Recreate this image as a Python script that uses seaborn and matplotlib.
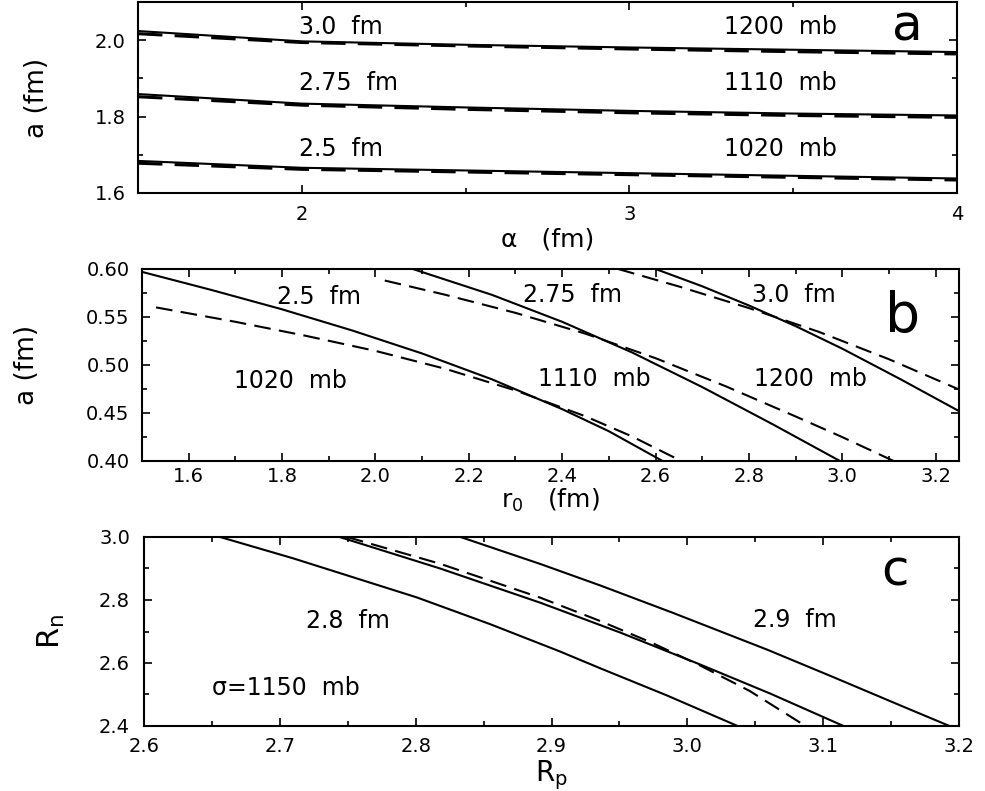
import numpy as np
import pandas as pd
import matplotlib
matplotlib.use("Agg")
import matplotlib.pyplot as plt
from matplotlib.ticker import MultipleLocator, FormatStrFormatter
import seaborn as sns

sns.set_style("ticks")
plt.rcParams['font.family'] = ['DejaVu Sans']
plt.rcParams['mathtext.fontset'] = 'dejavusans'
plt.rcParams['text.color'] = 'black'
plt.rcParams['axes.labelcolor'] = 'black'
plt.rcParams['xtick.color'] = 'black'
plt.rcParams['ytick.color'] = 'black'

# ---------------- Panel a data ----------------
a_x = [1.5, 2.0, 2.5, 3.0, 3.5, 4.0]
a_solid_30 = [2.024, 1.997, 1.988, 1.981, 1.975, 1.969]
a_dash_30 = [2.017, 1.994, 1.985, 1.977, 1.970, 1.964]
a_solid_275 = [1.859, 1.834, 1.824, 1.815, 1.808, 1.803]
a_dash_275 = [1.852, 1.830, 1.819, 1.810, 1.803, 1.798]
a_solid_25 = [1.684, 1.666, 1.659, 1.652, 1.645, 1.638]
a_dash_25 = [1.678, 1.662, 1.655, 1.648, 1.641, 1.634]

# ---------------- Panel b data ----------------
b_s25_x = [1.5, 1.65, 1.8, 1.95, 2.1, 2.25, 2.4, 2.5, 2.615]
b_s25_y = [0.597, 0.578, 0.558, 0.536, 0.512, 0.485, 0.454, 0.431, 0.400]
b_d25_x = [1.53, 1.7, 1.85, 2.0, 2.15, 2.3, 2.45, 2.55, 2.655]
b_d25_y = [0.560, 0.545, 0.5305, 0.5147, 0.496, 0.4735, 0.4465, 0.4255, 0.400]
b_s275_x = [2.08, 2.25, 2.4, 2.55, 2.7, 2.85, 2.995]
b_s275_y = [0.600, 0.573, 0.545, 0.513, 0.477, 0.4385, 0.400]
b_d275_x = [2.02, 2.15, 2.3, 2.45, 2.6, 2.75, 2.9, 3.0, 3.11]
b_d275_y = [0.588, 0.5731, 0.5543, 0.5326, 0.5071, 0.4779, 0.4464, 0.4249, 0.400]
b_s30_x = [2.6, 2.7, 2.8, 2.9, 3.0, 3.125, 3.25]
b_s30_y = [0.600, 0.582, 0.562, 0.5405, 0.517, 0.4851, 0.452]
b_d30_x = [2.52, 2.65, 2.8, 2.95, 3.1, 3.25]
b_d30_y = [0.600, 0.5818, 0.5593, 0.5345, 0.506, 0.4745]

# ---------------- Panel c data ----------------
c_sA_x = [2.656, 2.710, 2.801, 2.855, 2.906, 2.936, 2.985, 3.037]
c_sA_y = [3.0, 2.932, 2.808, 2.723, 2.637, 2.583, 2.497, 2.40]
c_sB_x = [2.744, 2.818, 2.892, 2.951, 3.009, 3.061, 3.115]
c_sB_y = [3.0, 2.900, 2.791, 2.696, 2.596, 2.503, 2.40]
c_d_x = [2.7495, 2.818, 2.892, 2.936, 2.973, 3.009, 3.046, 3.087]
c_d_y = [3.0, 2.915, 2.807, 2.733, 2.666, 2.593, 2.511, 2.40]
c_sC_x = [2.833, 2.892, 2.936, 2.9895, 3.059, 3.107, 3.157, 3.193]
c_sC_y = [3.0, 2.914, 2.846, 2.759, 2.642, 2.556, 2.465, 2.40]

W, H = 985, 791
fig = plt.figure(figsize=(W / 100, H / 100), dpi=100)

def box(l, t, r, b):
    return [l / W, 1 - b / H, (r - l) / W, (b - t) / H]

axa = fig.add_axes(box(138, 2, 957, 193))
axb = fig.add_axes(box(142, 269, 959, 461))
axc = fig.add_axes(box(144, 537, 959, 726))

LW = 1.5
DASH = (8, 4)

def line(ax, x, y, dashed=False, lw=LW):
    df = pd.DataFrame({"x": x, "y": y})
    sns.lineplot(data=df, x="x", y="y", ax=ax, color="black", lw=lw,
                 estimator=None, sort=True)
    ln = ax.lines[-1]
    ln.set_solid_capstyle("butt")
    ln.set_solid_joinstyle("round")
    if dashed:
        ln.set_dashes(DASH)

# Panel a
for s, d in [(a_solid_30, a_dash_30), (a_solid_275, a_dash_275), (a_solid_25, a_dash_25)]:
    line(axa, a_x, s)
    line(axa, a_x, d, dashed=True, lw=2.2)

# Panel b
line(axb, b_s25_x, b_s25_y)
line(axb, b_d25_x, b_d25_y, dashed=True)
line(axb, b_s275_x, b_s275_y)
line(axb, b_d275_x, b_d275_y, dashed=True)
line(axb, b_s30_x, b_s30_y)
line(axb, b_d30_x, b_d30_y, dashed=True)

# Panel c
line(axc, c_sA_x, c_sA_y)
line(axc, c_sB_x, c_sB_y)
line(axc, c_d_x, c_d_y, dashed=True)
line(axc, c_sC_x, c_sC_y)

TFS = 14
LFS = 18
AFS = 17

def style(ax):
    for sp in ax.spines.values():
        sp.set_visible(True)
        sp.set_linewidth(1.5)
        sp.set_color("black")
    ax.tick_params(which="both", direction="in", top=True, right=True,
                   width=1.2, colors="black", labelsize=TFS)
    ax.tick_params(which="major", length=6)
    ax.tick_params(which="minor", length=3.5)

# axes a
axa.set_xlim(1.5, 4.0)
axa.set_ylim(1.6, 2.1)
axa.xaxis.set_major_locator(MultipleLocator(1))
axa.xaxis.set_minor_locator(MultipleLocator(0.5))
axa.xaxis.set_major_formatter(FormatStrFormatter("%d"))
axa.yaxis.set_major_locator(MultipleLocator(0.2))
axa.yaxis.set_minor_locator(MultipleLocator(0.1))
axa.yaxis.set_major_formatter(FormatStrFormatter("%.1f"))
style(axa)
axa.tick_params(axis="x", pad=9)
axa.tick_params(axis="y", pad=9)
axa.set_xlabel("α   (fm)", fontsize=LFS)
axa.set_ylabel("a (fm)", fontsize=LFS + 1)
axa.xaxis.set_label_coords(0.5, -0.18)
axa.yaxis.set_label_coords(-0.107, 0.5)

axa.text(1.99, 2.034, "3.0  fm", fontsize=AFS, va="center", ha="left")
axa.text(1.99, 1.888, "2.75  fm", fontsize=AFS, va="center", ha="left")
axa.text(1.99, 1.715, "2.5  fm", fontsize=AFS, va="center", ha="left")
axa.text(3.29, 2.034, "1200  mb", fontsize=AFS, va="center", ha="left")
axa.text(3.29, 1.888, "1110  mb", fontsize=AFS, va="center", ha="left")
axa.text(3.29, 1.715, "1020  mb", fontsize=AFS, va="center", ha="left")
axa.text(0.939, 0.87, "a", transform=axa.transAxes, fontsize=36, ha="center", va="center")

# axes b
axb.set_xlim(1.5, 3.25)
axb.set_ylim(0.40, 0.60)
axb.xaxis.set_major_locator(MultipleLocator(0.2))
axb.xaxis.set_minor_locator(MultipleLocator(0.1))
axb.xaxis.set_major_formatter(FormatStrFormatter("%.1f"))
axb.yaxis.set_major_locator(MultipleLocator(0.05))
axb.yaxis.set_minor_locator(MultipleLocator(0.025))
axb.yaxis.set_major_formatter(FormatStrFormatter("%.2f"))
style(axb)
axb.tick_params(axis="x", pad=4)
axb.tick_params(axis="y", pad=9)
axb.set_xlabel("r$_0$   (fm)", fontsize=LFS)
axb.set_ylabel("a (fm)", fontsize=LFS + 1)
axb.xaxis.set_label_coords(0.5, -0.135)
axb.yaxis.set_label_coords(-0.125, 0.5)

axb.text(1.79, 0.571, "2.5  fm", fontsize=AFS, va="center", ha="left")
axb.text(1.696, 0.483, "1020  mb", fontsize=AFS, va="center", ha="left")
axb.text(2.317, 0.573, "2.75  fm", fontsize=AFS, va="center", ha="left")
axb.text(2.349, 0.485, "1110  mb", fontsize=AFS, va="center", ha="left")
axb.text(2.807, 0.573, "3.0  fm", fontsize=AFS, va="center", ha="left")
axb.text(2.81, 0.485, "1200  mb", fontsize=AFS, va="center", ha="left")
axb.text(0.931, 0.75, "b", transform=axb.transAxes, fontsize=40, ha="center", va="center")

# axes c
axc.set_xlim(2.6, 3.2)
axc.set_ylim(2.4, 3.0)
axc.xaxis.set_major_locator(MultipleLocator(0.1))
axc.xaxis.set_minor_locator(MultipleLocator(0.05))
axc.xaxis.set_major_formatter(FormatStrFormatter("%.1f"))
axc.yaxis.set_major_locator(MultipleLocator(0.2))
axc.yaxis.set_minor_locator(MultipleLocator(0.1))
axc.yaxis.set_major_formatter(FormatStrFormatter("%.1f"))
style(axc)
axc.tick_params(axis="x", pad=8)
axc.tick_params(axis="y", pad=10)
axc.set_xlabel("R$_\\mathregular{p}$", fontsize=LFS + 2)
axc.set_ylabel("R$_\\mathregular{n}$", fontsize=LFS + 4)
axc.xaxis.set_label_coords(0.5, -0.17)
axc.yaxis.set_label_coords(-0.094, 0.5)

axc.text(2.719, 2.732, "2.8  fm", fontsize=AFS, va="center", ha="left")
axc.text(3.048, 2.738, "2.9  fm", fontsize=AFS, va="center", ha="left")
axc.text(2.65, 2.52, "σ=1150  mb", fontsize=AFS, va="center", ha="left")
axc.text(0.921, 0.816, "c", transform=axc.transAxes, fontsize=36, ha="center", va="center")

for ax in (axa, axb, axc):
    ax.grid(False)

fig.savefig("out.png", dpi=100, facecolor="white")
